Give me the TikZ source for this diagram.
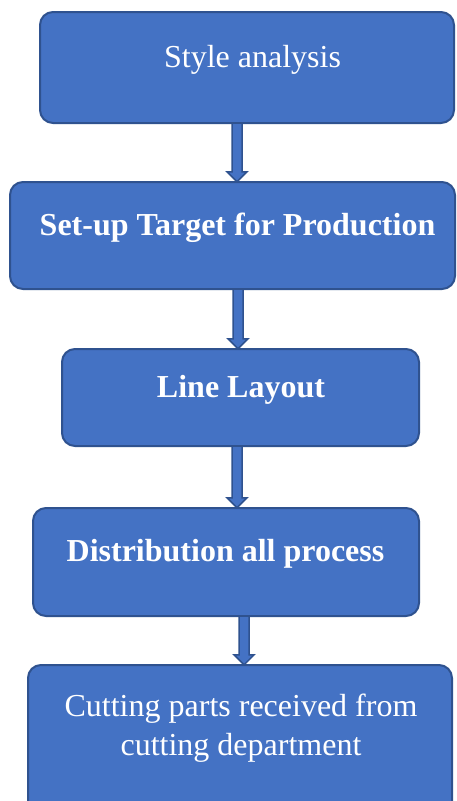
\documentclass[tikz,border=0pt]{standalone}
\usepackage{fontspec}
\setmainfont{Liberation Serif}
\usetikzlibrary{calc}
\definecolor{boxfill}{HTML}{4472C4}
\definecolor{boxline}{HTML}{2F528F}
\tikzset{
  stagebox/.style={draw=boxline, line width=2pt, fill=boxfill, rounded corners=13pt},
  stagetext/.style={text=white, inner sep=0pt, align=center, font=\fontsize{32}{39}\selectfont},
  flowarrow/.style={draw=boxline, line width=1.5pt, fill=boxfill, line join=miter},
}
% block arrow running straight down from #1 to #2
\newcommand\flowdown[2]{%
  \draw[flowarrow] let \p1=(#1), \p2=(#2) in
    (\x1-5pt,\y1) -- (\x1+5pt,\y1) -- (\x1+5pt,\y2+10pt) -- (\x1+10pt,\y2+10pt)
    -- (\x1,\y2) -- (\x1-10pt,\y2+10pt) -- (\x1-5pt,\y2+10pt) -- cycle;}
\begin{document}
\begin{tikzpicture}[x=1pt,y=-1pt]
  \useasboundingbox (0,0) rectangle (456,801);
  \clip (0,0) rectangle (456,801);
  \fill[white] (0,0) rectangle (456,801);

  % stage boxes
  \draw[stagebox] (40,12) rectangle (454,123);
  \node (b1) [inner sep=0pt, minimum width=414pt, minimum height=111pt] at (247,67.5) {};
  \draw[stagebox] (10,182) rectangle (455,289);
  \node (b2) [inner sep=0pt, minimum width=445pt, minimum height=107pt] at (232.5,235.5) {};
  \draw[stagebox] (62,349) rectangle (419,446);
  \node (b3) [inner sep=0pt, minimum width=357pt, minimum height=97pt] at (240.5,397.5) {};
  \draw[stagebox] (33,508) rectangle (419,616);
  \node (b4) [inner sep=0pt, minimum width=386pt, minimum height=108pt] at (226,562) {};
  \draw[stagebox] (28,665) rectangle (452,830);
  \node (b5) [inner sep=0pt, minimum width=424pt, minimum height=165pt] at (240,747.5) {};

  % labels
  \node (t1) [stagetext] at (252.5,60) {Style analysis};
  \node (t2) [stagetext, font=\fontsize{32}{39}\selectfont\bfseries] at (237.5,228) {Set-up Target for Production};
  \node (t3) [stagetext, font=\fontsize{32}{39}\selectfont\bfseries] at (241,390) {Line Layout};
  \node (t4) [stagetext, font=\fontsize{32}{39}\selectfont\bfseries] at (225.5,554) {Distribution all process};
  \node (t5) [stagetext] at (241,728.5) {Cutting parts received from\\cutting department};

  % connectors
  \flowdown{b1.south -| 237,0}{b2.north -| 237,0}
  \flowdown{b2.south -| 238,0}{b3.north -| 238,0}
  \flowdown{b3.south -| 237,0}{b4.north -| 237,0}
  \flowdown{b4.south -| 244,0}{b5.north -| 244,0}
\end{tikzpicture}
\end{document}
